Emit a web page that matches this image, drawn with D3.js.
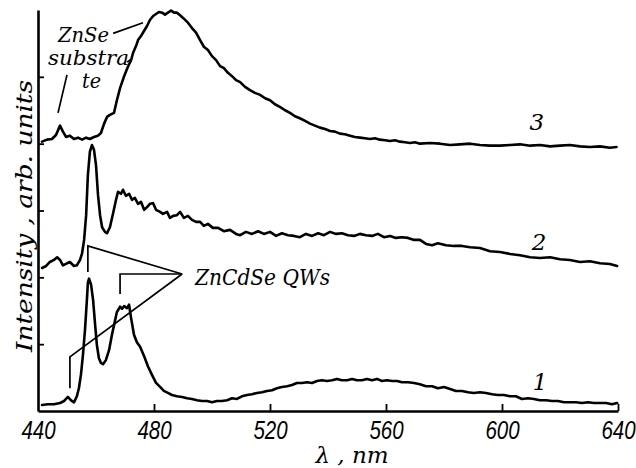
<!DOCTYPE html>
<html><head><meta charset="utf-8">
<script src="https://cdn.jsdelivr.net/npm/d3@7"></script>
<style>
html,body{margin:0;padding:0;background:#fff;}
svg{display:block;}
</style></head>
<body>
<svg id="chart" width="636" height="468"></svg>
<script>
// ---- data (wavelength in nm, intensity in arbitrary units, curves offset) ----
const xTicks = [440, 480, 520, 560, 600, 640];
const yTicks = [1, 2, 3, 4, 5];

const lambda3 = [441.4,443.1,444.8,446.2,447.6,448.6,449.7,451.0,452.4,453.8,455.2,456.6,457.9,459.3,460.7,461.7,462.8,463.8,464.8,466.2,467.2,468.3,469.7,471.0,472.1,472.8,473.8,474.5,475.5,476.6,477.6,478.6,479.7,480.7,481.7,482.8,483.8,484.8,485.9,486.9,487.9,489.0,490.3,491.7,493.1,494.5,495.9,497.2,498.6,500.0,501.4,502.8,504.1,505.5,506.9,508.3,509.7,511.4,513.1,514.8,516.6,518.3,520.0,521.7,523.4,525.2,526.9,528.6,530.3,532.1,533.8,535.5,537.2,539.0,540.7,542.4,544.1,545.8,547.6,549.3,551.0,552.7,554.5,556.2,557.9,559.7,561.4,563.1,564.8,566.6,568.3,570.0,571.7,575.2,578.6,582.1,585.5,589.0,592.4,595.9,599.3,602.8,606.2,609.7,613.1,616.6,620.0,623.4,626.9,630.3,633.8,637.2,639.5];
const int3 =    [4.03,4.06,4.07,4.13,4.27,4.18,4.10,4.12,4.07,4.09,4.06,4.09,4.07,4.10,4.12,4.16,4.30,4.40,4.43,4.46,4.65,4.83,5.01,5.15,5.25,5.36,5.46,5.55,5.61,5.69,5.76,5.85,5.91,5.94,5.97,5.96,5.93,5.96,5.99,5.96,5.96,5.92,5.87,5.81,5.73,5.66,5.55,5.45,5.40,5.31,5.25,5.16,5.13,5.06,5.01,4.95,4.92,4.85,4.80,4.76,4.73,4.68,4.65,4.59,4.55,4.50,4.46,4.41,4.38,4.34,4.30,4.27,4.24,4.22,4.19,4.18,4.15,4.14,4.12,4.10,4.09,4.08,4.07,4.08,4.06,4.05,4.04,4.05,4.03,4.02,4.01,4.02,4.00,4.01,4.00,3.98,3.99,4.00,3.98,3.97,3.97,3.98,3.99,3.97,3.98,3.96,3.97,3.98,3.96,3.95,3.96,3.94,3.95];

const lambda2 = [441.4,442.8,444.1,445.5,446.6,447.6,448.6,450.0,451.0,452.4,453.4,454.5,455.2,455.9,456.6,457.2,457.9,458.6,459.3,460.0,460.7,461.4,462.1,463.1,463.8,464.8,465.9,466.9,467.6,468.6,469.3,470.3,471.4,472.4,473.4,474.5,475.5,476.6,477.6,478.6,479.7,480.7,482.1,483.1,484.5,485.5,486.6,487.9,489.0,490.3,491.7,493.1,494.5,495.9,497.2,498.6,500.3,502.1,504.1,506.2,508.3,509.7,511.7,513.8,515.9,517.9,520.0,522.1,524.1,526.2,528.3,530.3,532.4,534.5,536.6,538.6,540.7,542.8,544.8,546.9,549.0,551.0,553.1,555.2,557.2,559.3,561.4,563.4,565.5,567.6,569.7,571.7,573.8,575.9,577.9,580.7,583.4,586.2,589.0,592.4,595.9,599.3,602.8,606.2,609.7,613.1,616.6,620.0,623.4,626.9,630.3,633.8,637.2,639.7];
const int2 =    [2.14,2.17,2.23,2.26,2.30,2.26,2.18,2.21,2.23,2.17,2.18,2.26,2.36,2.56,2.93,3.53,3.88,3.98,3.91,3.68,3.23,2.93,2.75,2.68,2.66,2.75,2.96,3.16,3.28,3.25,3.31,3.22,3.25,3.16,3.19,3.10,3.13,3.01,3.05,3.10,3.11,3.01,2.98,2.95,2.98,2.89,2.92,2.93,2.98,2.89,2.92,2.86,2.83,2.83,2.77,2.80,2.74,2.74,2.69,2.71,2.65,2.63,2.68,2.65,2.69,2.65,2.68,2.62,2.66,2.63,2.62,2.60,2.65,2.62,2.66,2.63,2.68,2.65,2.66,2.63,2.62,2.65,2.63,2.62,2.65,2.60,2.62,2.59,2.60,2.59,2.56,2.56,2.50,2.48,2.51,2.48,2.47,2.47,2.45,2.44,2.39,2.38,2.35,2.33,2.30,2.29,2.30,2.27,2.26,2.23,2.24,2.21,2.20,2.17];

const lambda1 = [441.4,443.4,445.5,447.6,449.0,450.3,451.4,452.4,453.4,454.1,454.8,455.5,456.2,456.9,457.2,457.6,458.3,459.0,459.7,460.3,461.0,461.7,462.4,463.4,464.5,465.5,466.6,467.2,468.3,469.0,469.7,470.7,471.4,472.1,473.1,474.1,475.2,476.6,477.9,479.3,480.7,482.1,483.4,484.8,486.2,487.9,489.7,491.4,493.1,494.8,496.6,498.3,500.0,501.7,503.4,505.2,506.9,508.6,510.3,512.1,513.8,515.5,517.2,519.0,520.7,522.4,524.1,525.9,527.6,529.3,531.0,532.8,534.5,536.2,537.9,539.7,541.4,543.1,544.8,546.6,548.3,550.0,551.7,553.4,555.2,556.9,558.6,560.3,562.1,563.8,565.5,567.6,569.7,571.7,573.8,575.9,577.9,580.0,582.1,584.1,586.2,588.3,590.3,592.4,594.5,596.6,598.6,600.7,602.8,604.8,606.9,609.0,611.0,613.1,615.2,617.2,619.3,621.4,623.4,625.5,627.6,629.7,631.7,633.8,635.9,637.9,639.7];
const int1 =    [0.09,0.10,0.10,0.12,0.15,0.21,0.16,0.13,0.22,0.34,0.54,0.84,1.21,1.69,1.92,1.98,1.89,1.66,1.29,0.99,0.79,0.72,0.70,0.76,0.91,1.14,1.36,1.48,1.56,1.53,1.57,1.54,1.59,1.39,1.14,1.03,0.96,0.82,0.67,0.54,0.42,0.36,0.30,0.27,0.24,0.22,0.21,0.19,0.18,0.16,0.15,0.15,0.13,0.15,0.15,0.16,0.19,0.18,0.22,0.24,0.25,0.27,0.28,0.30,0.31,0.34,0.36,0.37,0.39,0.42,0.42,0.43,0.42,0.45,0.46,0.45,0.46,0.48,0.46,0.46,0.48,0.46,0.46,0.48,0.46,0.48,0.45,0.46,0.45,0.45,0.43,0.43,0.42,0.40,0.37,0.37,0.34,0.36,0.33,0.30,0.30,0.28,0.27,0.28,0.27,0.25,0.24,0.24,0.22,0.22,0.18,0.19,0.18,0.16,0.16,0.15,0.15,0.13,0.13,0.13,0.12,0.13,0.12,0.12,0.12,0.10,0.12];

const curveLabels = ["1", "2", "3"];

// ---- layout ----
const svg = d3.select("#chart");
const x = d3.scaleLinear().domain([440, 640]).range([38, 618]);
const y = d3.scaleLinear().domain([0, 6]).range([411, 10]);

const serif = "'DejaVu Serif', 'Liberation Serif', serif";
const sans = "'Liberation Sans', 'DejaVu Sans', sans-serif";

// axes
const xAxis = d3.axisBottom(x).tickValues(xTicks).tickSizeInner(-7).tickSizeOuter(0).tickPadding(10).tickFormat(d3.format("d"));
const gx = svg.append("g").attr("transform", `translate(0,${y(0)})`).call(xAxis);
gx.select(".domain").attr("stroke", "#000").attr("stroke-width", 2.6);
gx.selectAll(".tick line").attr("stroke", "#000").attr("stroke-width", 1.8);
gx.selectAll(".tick").filter(d => d === 440).select("line").remove();
gx.selectAll(".tick text").attr("font-family", sans).attr("font-style", "italic")
  .attr("font-size", 25).attr("fill", "#000")
  .attr("transform", "scale(0.82,1)");

const yAxis = d3.axisLeft(y).tickValues(yTicks).tickSizeInner(-6).tickSizeOuter(0).tickFormat("");
const gy = svg.append("g").attr("transform", `translate(${x(440)},0)`).call(yAxis);
gy.select(".domain").attr("stroke", "#000").attr("stroke-width", 2.6);
gy.selectAll(".tick line").attr("stroke", "#000").attr("stroke-width", 1.8);

// curves
const line = d3.line().x(d => x(d[0])).y(d => y(d[1]));
const series = [
  {l: lambda1, v: int1},
  {l: lambda2, v: int2},
  {l: lambda3, v: int3}
];
series.forEach(s => {
  const pts = s.l.map((l, i) => [l, s.v[i]]);
  svg.append("path").datum(pts).attr("d", line)
    .attr("fill", "none").attr("stroke", "#000").attr("stroke-width", 2.6)
    .attr("stroke-linejoin", "round").attr("stroke-linecap", "round");
});

// curve numbers
const labelPos = [[613.1, 0.31], [612.8, 2.41], [612.0, 4.20]];
curveLabels.forEach((t, i) => {
  svg.append("text").attr("x", x(labelPos[i][0])).attr("y", y(labelPos[i][1]))
    .attr("font-family", serif).attr("font-style", "italic").attr("font-size", 23)
    .attr("text-anchor", "middle").attr("fill", "#000").text(t);
});

// annotation leader lines
function seg(pts, w) {
  svg.append("path").datum(pts).attr("d", line).attr("fill", "none")
    .attr("stroke", "#000").attr("stroke-width", w || 1.7);
}
// ZnCdSe QWs
seg([[457.2, 2.08], [457.2, 2.47], [489.7, 2.05]]);
seg([[468.3, 1.75], [468.3, 2.05], [489.7, 2.05]]);
seg([[451.0, 0.34], [451.0, 0.81], [489.7, 2.05]]);
// ZnSe substrate
seg([[465.9, 5.65], [476.2, 5.81]]);
seg([[446.9, 4.46], [450.0, 5.03]]);
seg([[470.7, 5.22], [472.0, 5.26]], 1.5);

function txt(px, py, s, size, len) {
  const t = svg.append("text").attr("x", px).attr("y", py)
    .attr("font-family", serif).attr("font-style", "italic").attr("font-size", size)
    .attr("fill", "#000").text(s);
  if (len) t.attr("textLength", len).attr("lengthAdjust", "spacingAndGlyphs");
  return t;
}
txt(58, 42, "ZnSe", 20, 51);
txt(48, 65, "substra", 20, 81);
txt(82, 88, "te", 20, 19);
txt(195, 285, "ZnCdSe QWs", 23, 135);

// axis titles
svg.append("text").attr("transform", "translate(32,216) rotate(-90)")
  .attr("text-anchor", "middle").attr("font-family", serif).attr("font-style", "italic")
  .attr("font-size", 23).attr("textLength", 272).attr("lengthAdjust", "spacingAndGlyphs")
  .attr("fill", "#000").text("Intensity , arb. units");

svg.append("text").attr("x", 352).attr("y", 463).attr("text-anchor", "middle")
  .attr("font-family", serif).attr("font-style", "italic").attr("font-size", 23)
  .attr("fill", "#000").text("λ , nm");
</script>
</body></html>
